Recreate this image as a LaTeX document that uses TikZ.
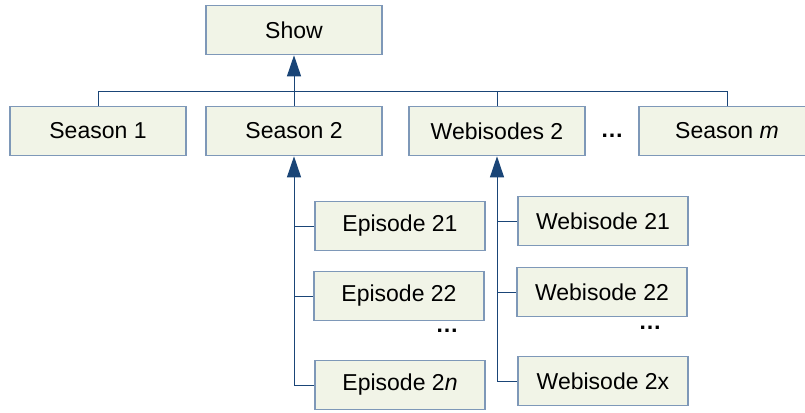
\documentclass[tikz,border=0pt]{standalone}
\usepackage{fontspec}
\setmainfont{Liberation Sans}
\usepackage{xcolor}
\usetikzlibrary{arrows.meta}

\definecolor{boxfill}{HTML}{F1F4E7}
\definecolor{boxline}{HTML}{7E98B8}
\definecolor{linkblue}{HTML}{1A4577}

\tikzset{
  item/.style={draw=boxline, fill=boxfill, line width=1.6pt,
               minimum width=176pt, minimum height=49pt, inner sep=0pt,
               font=\fontsize{23}{28}\selectfont, anchor=center},
  subitem/.style={item, minimum width=170pt},
  link/.style={draw=linkblue, line width=1pt},
  uplink/.style={link, -{Triangle[length=21pt, width=14pt]}},
  more/.style={font=\fontsize{23}{28}\selectfont\bfseries}
}

\begin{document}
\begin{tikzpicture}[x=1pt, y=1pt]
        \clip (0,0) rectangle (805,-412);
        \useasboundingbox (0,0) rectangle (805,-412);

        % top and second level
        \node[item] (show) at (294,-30) {Show};
        \node[item] (s1) at (98,-131) {Season 1};
        \node[item] (s2) at (294,-131) {Season 2};
        \node[item] (w2) at (497,-131) {Webisodes 2};
        \node[more] (dots1) at (612,-136) {\dots};
        \node[item] (sm) at (727,-131) {Season \textit{m}};
        \coordinate (bus) at (0,-91);

        % episodes and webisodes
        \node[subitem] (e21) at (400,-226) {Episode 21};
        \node[subitem] (e22) at (399,-296) {Episode 22};
        \node[more] (dots2) at (447,-331) {\dots};
        \node[subitem] (e2n) at (400,-385) {Episode 2\textit{n}};
        \node[subitem] (w21) at (603,-221) {Webisode 21};
        \node[subitem] (w22) at (602,-292) {Webisode 22};
        \node[more] (dots3) at (650,-328) {\dots};
        \node[subitem] (w2x) at (603,-381) {Webisode 2x};

        \draw[link] (s1.north) |- (bus -| sm.north) -- (sm.north);
        \draw[link] (w2.north) -- (w2.north |- bus);
        \draw[uplink] (s2.north) -- (show.south);

        \draw[uplink] (e2n.west) -| (s2.south);
        \draw[link] (e21.west) -- (e21.west -| s2.south);
        \draw[link] (e22.west) -- (e22.west -| s2.south);

        \draw[uplink] (w2x.west) -| (w2.south);
        \draw[link] (w21.west) -- (w21.west -| w2.south);
        \draw[link] (w22.west) -- (w22.west -| w2.south);
      \end{tikzpicture}
\end{document}
